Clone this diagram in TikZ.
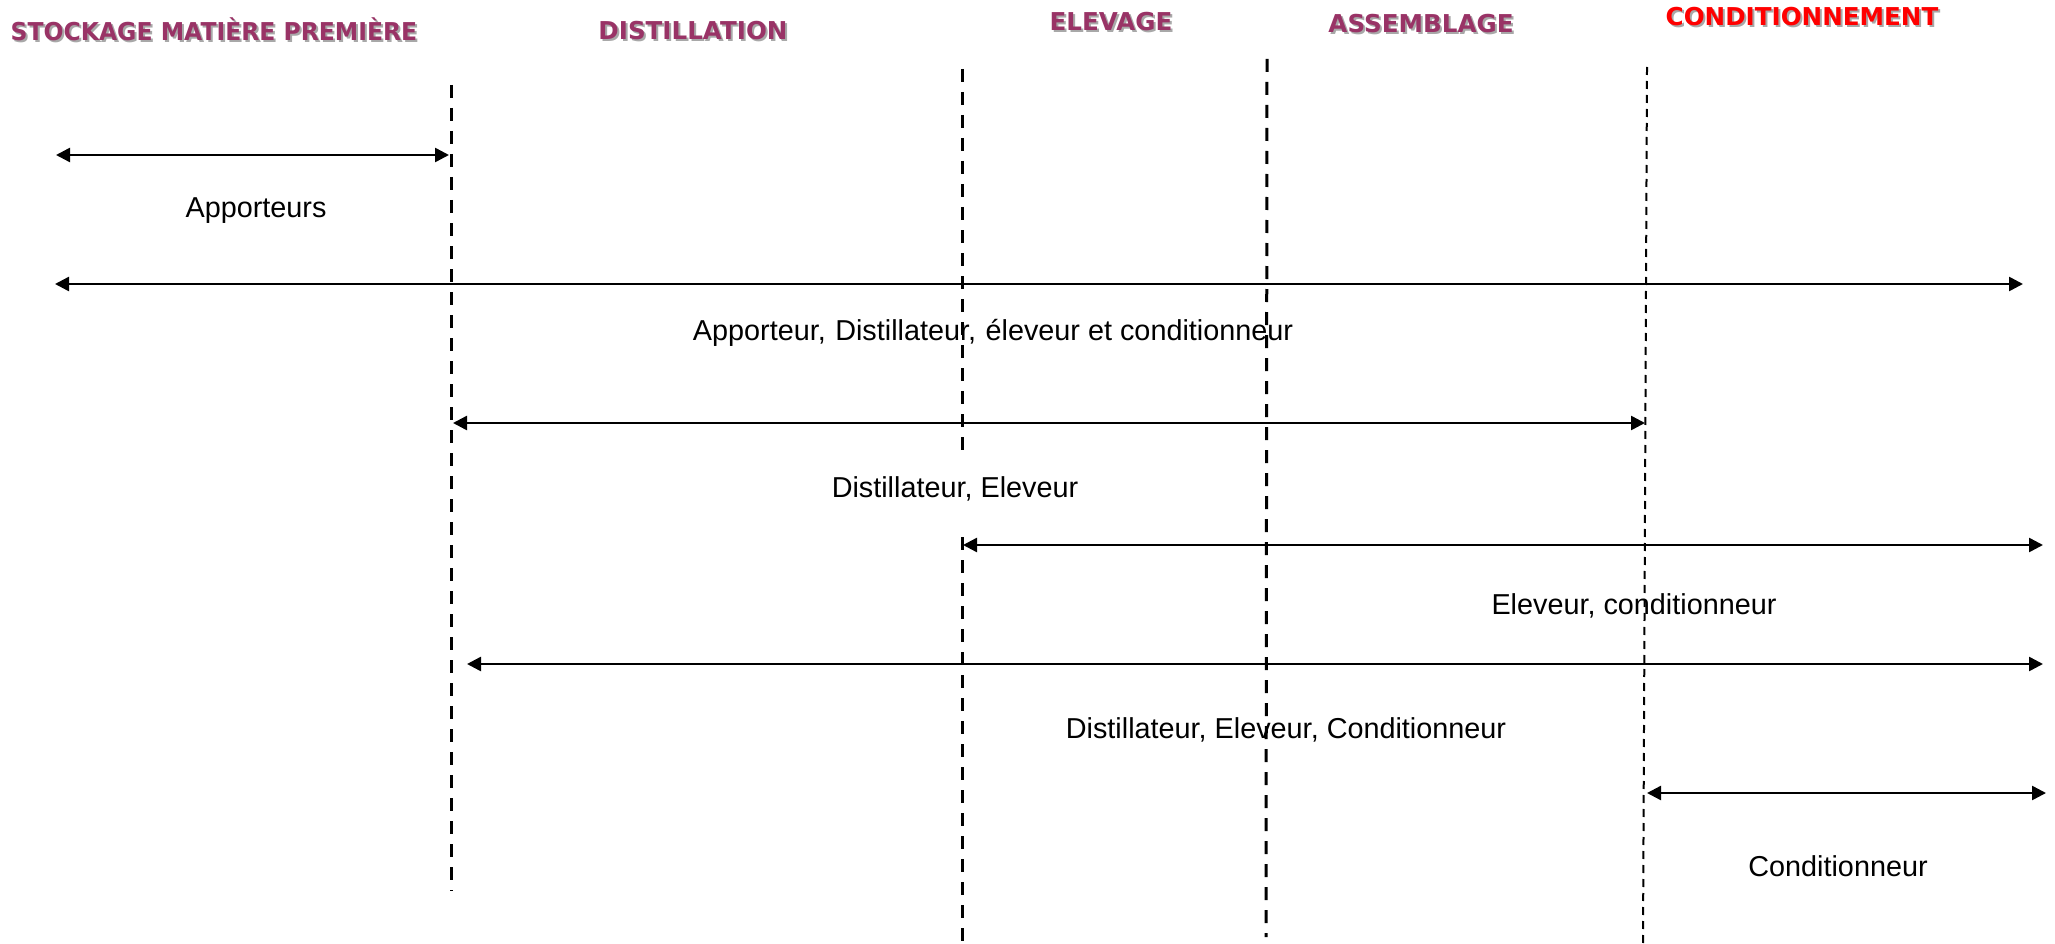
\documentclass[tikz,border=0pt]{standalone}
\usepackage{fontspec}
\usepackage{graphicx}
\setmainfont{Liberation Sans}
\newfontfamily\hdrfont{DejaVu Sans}
\usetikzlibrary{arrows.meta}
\definecolor{plum}{HTML}{993366}
\definecolor{shadowgray}{HTML}{A8A8A8}
\begin{document}
\begin{tikzpicture}[x=1pt,y=-1pt,
  hdr/.style={font=\hdrfont\bfseries\fontsize{24.6}{30}\selectfont, inner sep=0pt, anchor=center},
  lbl/.style={font=\fontsize{28.8}{34}\selectfont, inner sep=0pt, anchor=base},
  sepline/.style={line width=3pt, dash pattern=on 13pt off 10pt},
  septhin/.style={line width=2pt, dash pattern=on 8pt off 6pt},
  dbl/.style={line width=2.5pt, {Triangle[length=14pt,width=14pt]}-{Triangle[length=14pt,width=14pt]}}]
\useasboundingbox (0,0) rectangle (2055,944);
% headers with shadow
\node[hdr, text=shadowgray] (h1s) at (216,31) {\scalebox{0.955}[1]{STOCKAGE MATIÈRE PREMIÈRE}};
\node[hdr, text=plum] (h1) at (214,29) {\scalebox{0.955}[1]{STOCKAGE MATIÈRE PREMIÈRE}};
\node[hdr, text=shadowgray] (h2s) at (695,33) {DISTILLATION};
\node[hdr, text=plum] (h2) at (693,31) {DISTILLATION};
\node[hdr, text=shadowgray] (h3s) at (1113,24) {ELEVAGE};
\node[hdr, text=plum] (h3) at (1111,22) {ELEVAGE};
\node[hdr, text=shadowgray] (h4s) at (1423,26) {ASSEMBLAGE};
\node[hdr, text=plum] (h4) at (1421,24) {ASSEMBLAGE};
\node[hdr, text=shadowgray] (h5s) at (1804,19) {CONDITIONNEMENT};
\node[hdr, text=red] (h5) at (1802,17) {CONDITIONNEMENT};
% vertical separators
\coordinate (l1t) at (451,85);  \coordinate (l1b) at (451,891);
\coordinate (l2t) at (962,69);  \coordinate (l2m) at (962,457);
\coordinate (l2n) at (962,537); \coordinate (l2b) at (962,944);
\coordinate (l3t) at (1267,59); \coordinate (l3b) at (1266,937);
\coordinate (l4t) at (1647,67); \coordinate (l4b) at (1643,944);
\draw[sepline] (l1t) -- (l1b);
\draw[sepline] (l2t) -- (l2m);
\draw[sepline] (l2n) -- (l2b);
\draw[sepline] (l3t) -- (l3b);
\draw[septhin] (l4t) -- (l4b);
% arrow end points
\coordinate (a1l) at (56,155);   \coordinate (a1r) at (449,155);
\coordinate (a2l) at (55,284);   \coordinate (a2r) at (2023,284);
\coordinate (a3l) at (453,423);  \coordinate (a3r) at (1645,423);
\coordinate (a4l) at (963,545);  \coordinate (a4r) at (2043,545);
\coordinate (a5l) at (467,664);  \coordinate (a5r) at (2043,664);
\coordinate (a6l) at (1647,793); \coordinate (a6r) at (2046,793);
\draw[dbl] (a1l) -- (a1r);
\draw[dbl] (a2l) -- (a2r);
\draw[dbl] (a3l) -- (a3r);
\draw[dbl] (a4l) -- (a4r);
\draw[dbl] (a5l) -- (a5r);
\draw[dbl] (a6l) -- (a6r);
% labels
\node[lbl] (t1) at (256,218) {Apporteurs};
\node[lbl] (t2) at (993,340) {Apporteur,\hspace{1.5pt} Distillateur,\hspace{1.5pt} éleveur et conditionneur};
\node[lbl] (t3) at (955,497) {Distillateur, Eleveur};
\node[lbl] (t4) at (1634,614) {Eleveur, conditionneur};
\node[lbl] (t5) at (1286,738) {Distillateur, Eleveur, Conditionneur};
\node[lbl] (t6) at (1838,876) {Conditionneur};
\end{tikzpicture}
\end{document}
